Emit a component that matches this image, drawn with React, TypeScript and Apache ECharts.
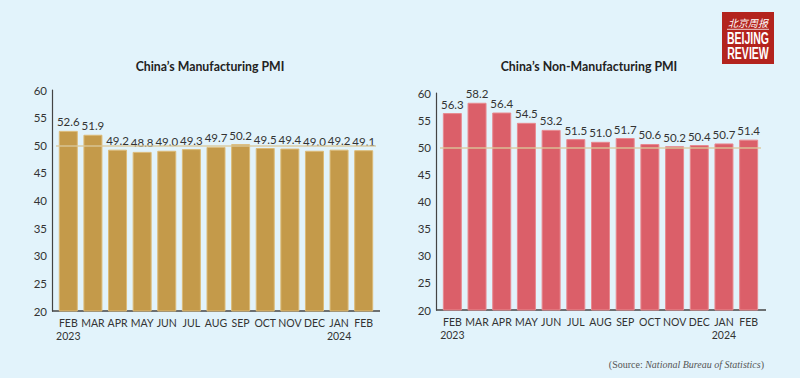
import React, { useEffect, useRef } from "react";
import * as echarts from "echarts";

const months = ["FEB\n2023", "MAR", "APR", "MAY", "JUN", "JUL", "AUG", "SEP", "OCT", "NOV", "DEC", "JAN\n2024", "FEB"];
const manufacturing = [52.6, 51.9, 49.2, 48.8, 49.0, 49.3, 49.7, 50.2, 49.5, 49.4, 49.0, 49.2, 49.1];
const nonManufacturing = [56.3, 58.2, 56.4, 54.5, 53.2, 51.5, 51.0, 51.7, 50.6, 50.2, 50.4, 50.7, 51.4];
const yTicks = { min: 20, max: 60, interval: 5 };
const threshold = 50;
const titles = ["China\u2019s Manufacturing PMI", "China\u2019s Non-Manufacturing PMI"];

const FONT = "Lato, 'Open Sans', sans-serif";
const LOGO_FONT = "bold 17px 'Liberation Sans', Arial, sans-serif";

export default function App() {
  const ref = useRef<HTMLDivElement>(null);
  useEffect(() => {
    const chart = echarts.init(ref.current!, null, { renderer: "svg" });
    const grids = [
      { left: 56, width: 320, top: 90, height: 221 },
      { left: 440, width: 321, top: 93, height: 217 },
    ];
    const mkX = (i: number) => ({
      type: "category",
      gridIndex: i,
      data: months,
      axisLine: { show: false },
      axisTick: { show: false },
      axisLabel: { color: "#333", fontSize: 10.5, fontFamily: FONT, margin: 6, lineHeight: 12.5, interval: 0 },
    });
    const mkY = (i: number) => ({
      type: "value",
      gridIndex: i,
      min: yTicks.min,
      max: yTicks.max,
      interval: yTicks.interval,
      offset: 4,
      axisLine: { show: true, lineStyle: { color: "#444", width: 1.2 } },
      axisTick: { show: false },
      splitLine: { show: false },
      axisLabel: { color: "#333", fontSize: 11.5, fontFamily: FONT, margin: 5 },
    });
    const mkSeries = (i: number, data: number[], color: string, border: string) => ({
      type: "bar",
      xAxisIndex: i,
      yAxisIndex: i,
      data,
      barWidth: 19,
      itemStyle: { color, borderColor: border, borderWidth: 1 },
      label: {
        show: true,
        position: "top",
        distance: 3,
        color: "#333",
        fontSize: 11.5,
        fontFamily: FONT,
        formatter: (p: any) => p.value.toFixed(1),
      },
      markLine: {
        silent: true,
        symbol: "none",
        z: 10,
        label: { show: false },
        lineStyle: { color: "#d9c99a", width: 1.5, type: "solid", opacity: 0.9 },
        data: [{ yAxis: threshold }],
      },
    });
    chart.setOption({
      animation: false,
      backgroundColor: "#e2f3fb",
      grid: grids,
      xAxis: [mkX(0), mkX(1)],
      yAxis: [mkY(0), mkY(1)],
      series: [
        mkSeries(0, manufacturing, "#c49a4a", "#dcbb78"),
        mkSeries(1, nonManufacturing, "#db5f69", "#e88a90"),
      ],
      graphic: [
        { type: "text", x: 210, y: 66, style: { text: titles[0], font: `bold 12.3px ${FONT}`, fill: "#222", align: "center", verticalAlign: "middle" } },
        { type: "text", x: 589, y: 66, style: { text: titles[1], font: `bold 12.3px ${FONT}`, fill: "#222", align: "center", verticalAlign: "middle" } },
        { type: "line", shape: { x1: 52, y1: 311, x2: 380, y2: 311 }, style: { stroke: "#444", lineWidth: 1.5 } },
        { type: "line", shape: { x1: 436, y1: 310, x2: 766, y2: 310 }, style: { stroke: "#444", lineWidth: 1.5 } },
        {
          type: "group",
          x: 722,
          y: 12,
          children: [
            { type: "rect", shape: { x: 0, y: 0, width: 52, height: 52 }, style: { fill: "#b3231d" } },
            { type: "text", x: 26, y: 10.5, style: { text: "\u5317\u4eac\u5468\u62a5", font: "italic 10px 'Noto Sans CJK SC'", fill: "#fff", align: "center", verticalAlign: "middle" } },
            { type: "line", shape: { x1: 5, y1: 17.3, x2: 47, y2: 17.3 }, style: { stroke: "#fff", lineWidth: 0.8 } },
            { type: "text", x: 26, y: 26, scaleX: 0.62, style: { text: "BEIJING", font: LOGO_FONT, fill: "#fff", align: "center", verticalAlign: "middle" } },
            { type: "text", x: 26, y: 40.5, scaleX: 0.62, style: { text: "REVIEW", font: LOGO_FONT, fill: "#fff", align: "center", verticalAlign: "middle" } },
          ],
        },
        {
          type: "text",
          x: 764,
          y: 364,
          style: {
            text: "(Source: {i|National Bureau of Statistics})",
            font: "10px 'Liberation Serif', 'DejaVu Serif', serif",
            fill: "#555",
            align: "right",
            verticalAlign: "middle",
            rich: { i: { fontStyle: "italic", fontSize: 10, fontFamily: "'Liberation Serif', serif", fill: "#555" } },
          },
        },
      ],
    });
    return () => chart.dispose();
  }, []);
  return <div ref={ref} style={{ width: 800, height: 378, position: "absolute", left: 0, top: 0 }} />;
}
